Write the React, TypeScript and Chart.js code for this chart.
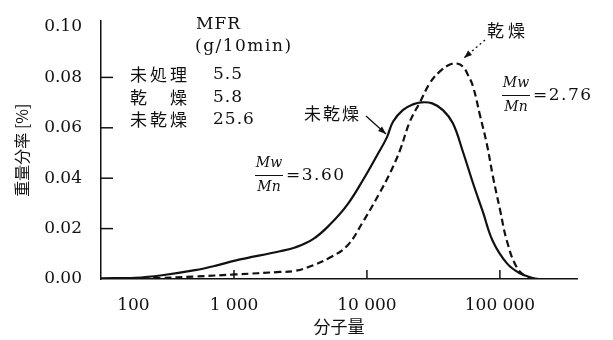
import React, { useEffect, useRef } from "react";
import { Chart, registerables } from "chart.js";
Chart.register(...registerables);

// 未乾燥 (undried), Mw/Mn = 3.60
const undriedX = [100, 180, 288, 509, 745, 1019, 2220, 2880, 3930, 5270, 7080, 9340, 12100, 14100, 15700, 18600, 22200, 25700, 31000, 37300, 44300, 52700, 62700, 74500, 88500, 113000, 141000, 177000, 200000];
const undriedY = [0.0003, 0.0005, 0.0015, 0.0035, 0.0054, 0.0073, 0.011, 0.0125, 0.0158, 0.0216, 0.0293, 0.0393, 0.0497, 0.0561, 0.0624, 0.067, 0.0693, 0.0701, 0.0697, 0.067, 0.0618, 0.0505, 0.0381, 0.0266, 0.015, 0.0062, 0.0023, 0.0004, 0];

// 乾燥 (dried), Mw/Mn = 2.76
const driedX = [140, 278, 509, 1019, 2220, 2880, 3930, 5270, 7080, 9340, 12500, 14900, 17700, 21000, 25000, 29800, 35400, 42100, 47500, 52700, 57500, 62700, 70800, 79800, 88500, 100000, 113000, 134000, 160000, 190000];
const driedY = [0, 0.0004, 0.001, 0.0018, 0.0028, 0.0032, 0.0054, 0.0085, 0.0131, 0.0227, 0.0343, 0.042, 0.051, 0.0624, 0.0701, 0.0778, 0.0824, 0.0851, 0.0855, 0.0843, 0.081, 0.0765, 0.065, 0.0535, 0.0408, 0.0277, 0.015, 0.0046, 0.0008, 0];

const xTickValues = [100, 1000, 10000, 100000];
const xTickLabels = ["100", "1 000", "10 000", "100 000"];
const yTickValues = [0, 0.02, 0.04, 0.06, 0.08, 0.1];
const yInnerTicks = [0.02, 0.04, 0.06, 0.08];
const xInnerTicks = [1000, 10000, 100000];

const mfrRows = ["未処理", "乾　燥", "未乾燥"];
const mfrValues = ["5.5", "5.8", "25.6"];

const X_MIN = 100;
const X_MAX = 380000;
const Y_MAX = 0.1023;

const SERIF = "'DejaVu Serif', serif";
const CJK = "'Noto Sans CJK JP', sans-serif";
const INK = "#111";

function txt(ctx: any, s: string, x: number, y: number, font: string, align: string = "left", spacing: string = "0px") {
  ctx.save();
  ctx.font = font;
  ctx.fillStyle = INK;
  ctx.textAlign = align;
  ctx.textBaseline = "middle";
  try { ctx.letterSpacing = spacing; } catch (e) {}
  ctx.fillText(s, x, y);
  ctx.restore();
}

function arrow(ctx: any, x1: number, y1: number, x2: number, y2: number, dash: number[] = []) {
  ctx.save();
  ctx.strokeStyle = INK;
  ctx.fillStyle = INK;
  ctx.lineWidth = 1.3;
  ctx.setLineDash(dash);
  ctx.beginPath();
  ctx.moveTo(x1, y1);
  ctx.lineTo(x2, y2);
  ctx.stroke();
  ctx.setLineDash([]);
  const a = Math.atan2(y2 - y1, x2 - x1);
  const L = 8, W = 3;
  ctx.beginPath();
  ctx.moveTo(x2, y2);
  ctx.lineTo(x2 - L * Math.cos(a) + W * Math.sin(a), y2 - L * Math.sin(a) - W * Math.cos(a));
  ctx.lineTo(x2 - L * Math.cos(a) - W * Math.sin(a), y2 - L * Math.sin(a) + W * Math.cos(a));
  ctx.closePath();
  ctx.fill();
  ctx.restore();
}

function fraction(ctx: any, cx: number, cy: number, value: string) {
  txt(ctx, "Mw", cx, cy - 12, "italic 14px " + SERIF, "center");
  txt(ctx, "Mn", cx, cy + 12, "italic 14px " + SERIF, "center");
  ctx.save();
  ctx.strokeStyle = INK;
  ctx.lineWidth = 1;
  ctx.beginPath();
  ctx.moveTo(cx - 14, cy + 0.5);
  ctx.lineTo(cx + 14, cy + 0.5);
  ctx.stroke();
  ctx.restore();
  txt(ctx, "=" + value, cx + 17, cy + 1, "17px " + SERIF, "left", "1.5px");
}

const annotPlugin = {
  id: "annot",
  afterDraw(chart: any) {
    const ctx = chart.ctx;
    const { left, bottom } = chart.chartArea;
    const xs = chart.scales.x;
    const ys = chart.scales.y;
    ctx.save();
    ctx.strokeStyle = INK;
    ctx.lineWidth = 1.5;
    yInnerTicks.forEach((v) => {
      const y = ys.getPixelForValue(v);
      ctx.beginPath();
      ctx.moveTo(left, y);
      ctx.lineTo(left + 12, y);
      ctx.stroke();
    });
    xInnerTicks.forEach((v) => {
      const x = xs.getPixelForValue(v);
      ctx.beginPath();
      ctx.moveTo(x, bottom);
      ctx.lineTo(x, bottom - 9);
      ctx.stroke();
    });
    ctx.restore();

    // MFR table
    txt(ctx, "MFR", 196, 25, "17px " + SERIF, "left", "1px");
    txt(ctx, "(g/10min)", 195, 47, "17px " + SERIF, "left", "1.5px");
    mfrRows.forEach((r, i) => {
      txt(ctx, r, 130, 75 + i * 22.5, "17px " + CJK, "left", "3px");
      txt(ctx, mfrValues[i], 213, 75 + i * 22.5, "17px " + SERIF, "left", "1px");
    });

    // curve labels
    txt(ctx, "未乾燥", 304, 114, "17px " + CJK, "left", "2px");
    arrow(ctx, 366, 116, 386, 134);
    txt(ctx, "乾燥", 487, 31, "17px " + CJK, "left", "4px");
    arrow(ctx, 485, 40, 464, 58, [2, 3]);

    fraction(ctx, 269, 175, "3.60");
    fraction(ctx, 516, 95, "2.76");
  },
};

export default function App() {
  const ref = useRef<HTMLCanvasElement>(null);
  useEffect(() => {
    const canvas = ref.current!;
    const chart = new Chart(canvas, {
      type: "line",
      data: {
        datasets: [
          {
            label: "未乾燥",
            data: undriedX.map((x, i) => ({ x, y: undriedY[i] })),
            borderColor: INK,
            borderWidth: 2.2,
            pointRadius: 0,
            fill: false,
            tension: 0.4,
          },
          {
            label: "乾燥",
            data: driedX.map((x, i) => ({ x, y: driedY[i] })),
            borderColor: INK,
            borderWidth: 2.2,
            borderDash: [7, 4],
            pointRadius: 0,
            fill: false,
            tension: 0.4,
          },
        ],
      },
      options: {
        responsive: false,
        animation: false,
        layout: { padding: { left: 0, right: 36, top: 13, bottom: 0 } },
        plugins: { legend: { display: false }, tooltip: { enabled: false } },
        scales: {
          x: {
            type: "logarithmic",
            min: X_MIN,
            max: X_MAX,
            grid: { display: false },
            border: { display: true, color: INK, width: 1.5 },
            afterBuildTicks: (scale: any) => {
              scale.ticks = [...xTickValues, X_MAX].map((v) => ({ value: v }));
            },
            afterFit: (scale: any) => {
              scale.height = 61;
            },
            ticks: {
              autoSkip: false,
              maxRotation: 0,
              align: "inner",
              padding: 8,
              color: INK,
              font: { family: "DejaVu Serif", size: 17 },
              callback: (v: any) => {
                const i = xTickValues.indexOf(Number(v));
                if (i < 0) return "";
                return i === 0 ? "   " + xTickLabels[i] : xTickLabels[i];
              },
            },
            title: {
              display: true,
              text: "分子量",
              color: INK,
              font: { family: "Noto Sans CJK JP", size: 17 },
              padding: { top: 0, bottom: 3 },
            },
          },
          y: {
            type: "linear",
            min: 0,
            max: Y_MAX,
            grid: { display: false },
            border: { display: true, color: INK, width: 1.5 },
            afterBuildTicks: (scale: any) => {
              scale.ticks = yTickValues.map((v) => ({ value: v }));
            },
            afterFit: (scale: any) => {
              scale.width = 101;
            },
            ticks: {
              padding: 11,
              color: INK,
              font: { family: "DejaVu Serif", size: 17 },
              callback: (v: any) => Number(v).toFixed(2),
            },
            title: {
              display: true,
              text: "重量分率 [%]",
              color: INK,
              font: { family: "Noto Sans CJK JP", size: 16 },
              padding: { top: 12, bottom: 0 },
            },
          },
        },
      },
      plugins: [annotPlugin],
    } as any);
    return () => chart.destroy();
  }, []);
  return (
    <div style={{ position: "fixed", left: 0, top: 0, width: 613, height: 340, background: "#fff" }}>
      <canvas ref={ref} width={613} height={340} style={{ display: "block", width: 613, height: 340 }} />
    </div>
  );
}
